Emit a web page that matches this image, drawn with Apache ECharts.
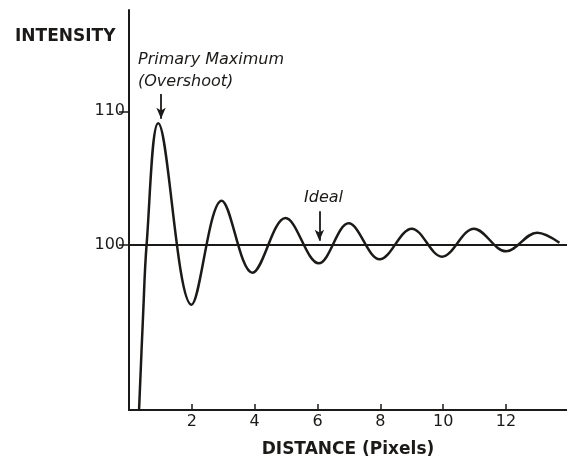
<!DOCTYPE html>
<html lang="en">
<head>
    <meta charset="UTF-8">
    <title>Intensity vs distance</title>
    <style>
        html, body { margin: 0; padding: 0; background: #fff; }
        #main { width: 567px; height: 459px; }
    </style>
</head>
<body>
<div id="main"></div>
<script src="https://cdn.jsdelivr.net/npm/echarts@6/dist/echarts.min.js"></script>
<script>
    // distance (pixels) and intensity: start, rise, then each peak / trough
    const distance = [0.32, 0.45, 0.56, 0.93, 1.99, 2.95, 3.93, 4.98, 6.04, 6.99, 7.98, 9.0, 9.96, 10.98, 12.0, 12.99, 13.7];
    const intensity = [87.6, 94.8, 100, 109.1, 95.5, 103.3, 97.9, 102.0, 98.6, 101.6, 98.9, 101.2, 99.1, 101.2, 99.5, 100.9, 100.15];
    const xTicks = [2, 4, 6, 8, 10, 12];
    const yTicks = [100, 110];
    const ideal = 100;

    const ink = '#1c1a18';
    const font = 'DejaVu Sans';

    const myChart = echarts.init(document.getElementById('main'));
    myChart.setOption({
        animation: false,
        backgroundColor: '#fff',
        grid: { left: 129, right: 0, top: 10, bottom: 49, outerBoundsMode: 'none', containLabel: false },
        xAxis: {
            type: 'value',
            min: 0,
            max: 13.94,
            name: 'DISTANCE (Pixels)',
            nameLocation: 'middle',
            nameGap: 31,
            nameTextStyle: { color: ink, fontFamily: font, fontSize: 17, fontWeight: 'bold' },
            axisLine: { lineStyle: { color: ink, width: 2 } },
            axisTick: { show: true, inside: true, length: 6, customValues: xTicks, lineStyle: { color: ink, width: 1.5 } },
            axisLabel: { customValues: xTicks, color: ink, fontFamily: font, fontSize: 16, margin: 4 },
            splitLine: { show: false }
        },
        yAxis: {
            type: 'value',
            min: 87.6,
            max: 117.6,
            axisLine: { show: true, lineStyle: { color: ink, width: 2 } },
            axisTick: { show: true, length: 10, customValues: yTicks, lineStyle: { color: ink, width: 1.5 } },
            axisLabel: { customValues: yTicks, color: ink, fontFamily: font, fontSize: 16, margin: 4 },
            splitLine: { show: false }
        },
        graphic: [
            { type: 'text', left: 15, top: 28, style: { text: 'INTENSITY', fill: ink, font: 'bold 17px "DejaVu Sans"' } },
            { type: 'text', left: 138, top: 52, style: { text: 'Primary Maximum', fill: ink, font: 'italic 16px "DejaVu Sans"' } },
            { type: 'text', left: 138, top: 74, style: { text: '(Overshoot)', fill: ink, font: 'italic 16px "DejaVu Sans"' } },
            { type: 'text', left: 304, top: 190, style: { text: 'Ideal', fill: ink, font: 'italic 16px "DejaVu Sans"' } }
        ],
        series: [{
            type: 'line',
            data: distance.map((d, i) => [d, intensity[i]]),
            smooth: 0.36,
            symbol: 'none',
            lineStyle: { color: ink, width: 2.5 },
            markLine: {
                silent: true,
                symbol: 'none',
                label: { show: false },
                lineStyle: { color: ink, width: 1.8, type: 'solid' },
                data: [
                    { yAxis: ideal },
                    [{ coord: [1.02, 111.3], symbol: 'none' }, { coord: [1.02, 109.45], symbol: 'arrow', symbolSize: [7, 11] }],
                    [{ coord: [6.06, 102.5], symbol: 'none' }, { coord: [6.06, 100.3], symbol: 'arrow', symbolSize: [7, 11] }]
                ]
            }
        }]
    });
</script>
</body>
</html>
